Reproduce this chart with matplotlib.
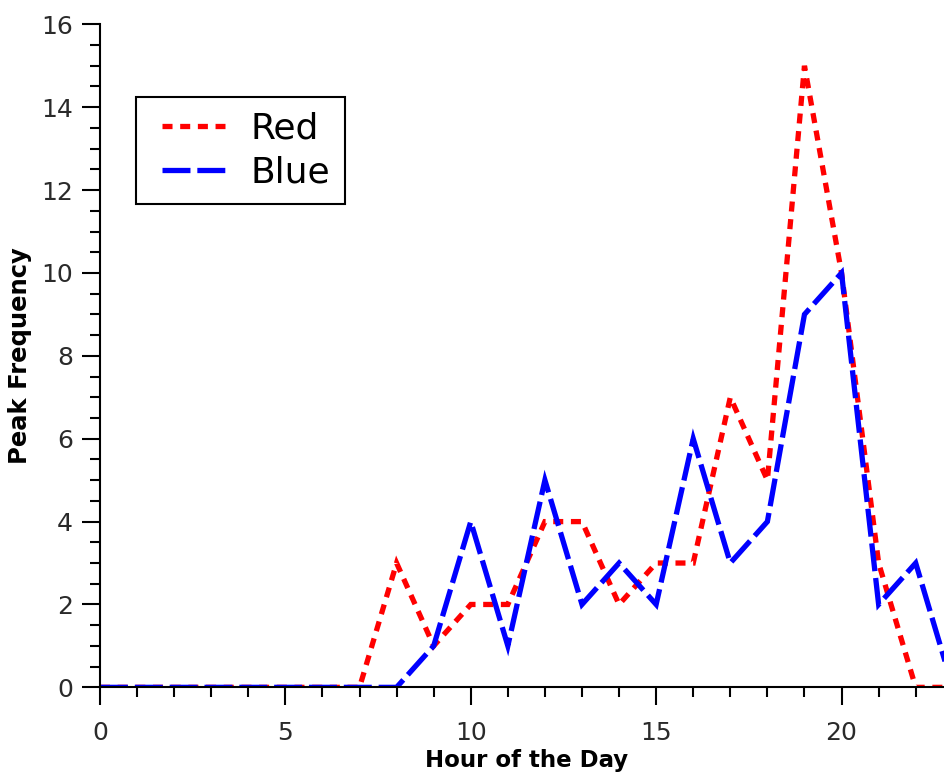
import matplotlib
matplotlib.use('Agg')
import matplotlib.pyplot as plt
from matplotlib.ticker import MultipleLocator
from matplotlib.lines import Line2D
from matplotlib.legend_handler import HandlerLine2D

hours = list(range(24))
red = [0, 0, 0, 0, 0, 0, 0, 0, 3, 1, 2, 2, 4, 4, 2, 3, 3, 7, 5, 15, 10, 3, 0, 0]
blue = [0, 0, 0, 0, 0, 0, 0, 0, 0, 1, 4, 1, 5, 2, 3, 2, 6, 3, 4, 9, 10, 2, 3, 0]

fig = plt.figure(figsize=(9.44, 7.75), dpi=100)
# axes runs past the right edge of the figure, as in the original
ax = fig.add_axes([0.1059, 0.1131, 0.9034, 0.8555])

ax.plot(hours, red, color='red', lw=3.8, dashes=[1.9, 1.45],
        dash_joinstyle='miter', label='Red')
ax.plot(hours, blue, color='blue', lw=3.8, dashes=[5.3, 1.3],
        dash_joinstyle='miter', label='Blue')

ax.set_xlim(0, 23)
ax.set_ylim(0, 16)
ax.xaxis.set_major_locator(MultipleLocator(5))
ax.xaxis.set_minor_locator(MultipleLocator(1))
ax.yaxis.set_major_locator(MultipleLocator(2))
ax.yaxis.set_minor_locator(MultipleLocator(0.5))

for side in ['top', 'right']:
    ax.spines[side].set_visible(False)
for side in ['left', 'bottom']:
    ax.spines[side].set_linewidth(1.5)
    ax.spines[side].set_color('black')

ax.tick_params(which='major', length=13, width=1.5, direction='out',
               labelsize=18, labelcolor='#2a2a2a')
ax.tick_params(which='minor', length=7, width=1.5, direction='out')
ax.tick_params(axis='x', which='major', pad=11)
ax.tick_params(axis='y', which='major', pad=6.5)

ax.set_xlabel('Hour of the Day', fontsize=16.5, fontweight='bold', labelpad=3)
ax.set_ylabel('Peak Frequency', fontsize=17.5, fontweight='bold', labelpad=6.5)

leg = ax.legend(loc='upper left', bbox_to_anchor=(0.042, 0.890), borderaxespad=0,
                fontsize=26, fancybox=False, handlelength=2.08, handletextpad=0.7,
                borderpad=0.4, labelspacing=0.28,
                handler_map={Line2D: HandlerLine2D(xpad=0.33)})
leg.get_frame().set_edgecolor('black')
leg.get_frame().set_linewidth(1.5)
leg.get_frame().set_alpha(1)

fig.savefig('out.png', dpi=100)
